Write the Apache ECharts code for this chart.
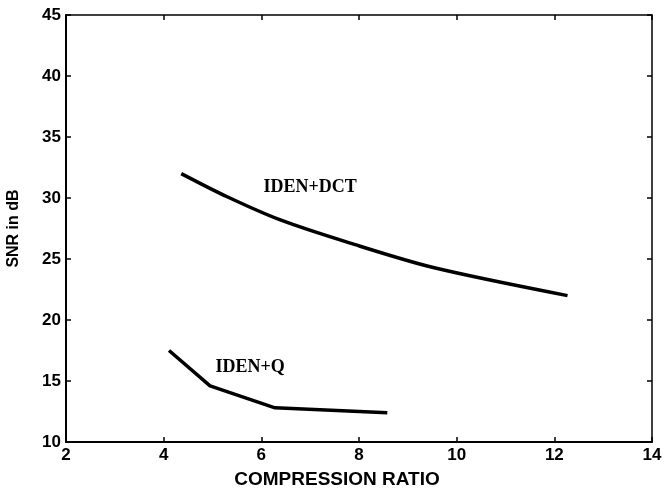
<!DOCTYPE html>
<html><head><meta charset="utf-8">
<script src="https://cdn.jsdelivr.net/npm/echarts@6/dist/echarts.min.js"></script>
<style>html,body{margin:0;padding:0;background:#fff}#c{width:664px;height:488px}</style>
</head><body><div id="c"></div>
<script>
var dctX = [4.36, 5.3, 6.39, 7.82, 9.52, 12.27];
var dctY = [32.0, 30.1, 28.2, 26.3, 24.3, 22.0];
var qX = [4.11, 4.95, 6.28, 8.58];
var qY = [17.5, 14.6, 12.8, 12.4];
var labelNames = ['IDEN+DCT', 'IDEN+Q'];
var labelX = [7.0, 5.77];
var labelY = [30.9, 16.1];
var xTicks = [2, 4, 6, 8, 10, 12, 14];
var yTicks = [10, 15, 20, 25, 30, 35, 40, 45];

var chart = echarts.init(document.getElementById('c'));
var axisFont = {fontFamily: 'Liberation Sans', fontWeight: 'bold', fontSize: 17, color: '#000'};
function zip(a, b) { return a.map(function (v, i) { return [v, b[i]]; }); }
chart.setOption({
  animation: false,
  grid: {left: 66, right: 12, top: 15, bottom: 46, containLabel: false, outerBoundsMode: 'none'},
  xAxis: [{
    type: 'value', min: xTicks[0], max: xTicks[xTicks.length - 1], interval: 2,
    name: 'COMPRESSION RATIO', nameLocation: 'middle', nameGap: 28,
    nameTextStyle: {fontFamily: 'Liberation Sans', fontWeight: 'bold', fontSize: 19, color: '#000', padding: [0, 44, 0, 0]},
    axisLine: {lineStyle: {color: '#000', width: 2}},
    axisTick: {inside: true, length: 5, lineStyle: {color: '#000', width: 1.5}},
    axisLabel: Object.assign({margin: 5}, axisFont),
    splitLine: {show: false}
  }, {
    type: 'value', position: 'top', min: 2, max: 14, interval: 2,
    axisLine: {lineStyle: {color: '#000', width: 1.5}},
    axisTick: {inside: true, length: 5, lineStyle: {color: '#000', width: 1.5}},
    axisLabel: {show: false}, splitLine: {show: false}
  }],
  yAxis: [{
    type: 'value', min: yTicks[0], max: yTicks[yTicks.length - 1], interval: 5,
    name: 'SNR in dB', nameLocation: 'middle', nameGap: 44, nameRotate: 90,
    nameTextStyle: {fontFamily: 'Liberation Sans', fontWeight: 'bold', fontSize: 16, color: '#000'},
    axisLine: {show: true, lineStyle: {color: '#000', width: 2}},
    axisTick: {show: true, inside: true, length: 5, lineStyle: {color: '#000', width: 1.5}},
    axisLabel: Object.assign({margin: 5}, axisFont),
    splitLine: {show: false}
  }, {
    type: 'value', position: 'right', min: 10, max: 45, interval: 5,
    axisLine: {show: true, lineStyle: {color: '#000', width: 1.5}},
    axisTick: {show: true, inside: true, length: 5, lineStyle: {color: '#000', width: 1.5}},
    axisLabel: {show: false}, splitLine: {show: false}
  }],
  series: [{
    type: 'line', data: zip(dctX, dctY), smooth: 0.3, showSymbol: false,
    lineStyle: {color: '#000', width: 3.5}
  }, {
    type: 'line', data: zip(qX, qY), smooth: false, showSymbol: false,
    lineStyle: {color: '#000', width: 3.5}
  }]
});
chart.setOption({
  graphic: labelNames.map(function (n, i) {
    var p = chart.convertToPixel({gridIndex: 0}, [labelX[i], labelY[i]]);
    return {type: 'text', x: p[0], y: p[1], style: {text: n, fill: '#000',
      font: 'bold 18px "Liberation Serif"', align: 'center', verticalAlign: 'middle'}};
  })
});
</script></body></html>
